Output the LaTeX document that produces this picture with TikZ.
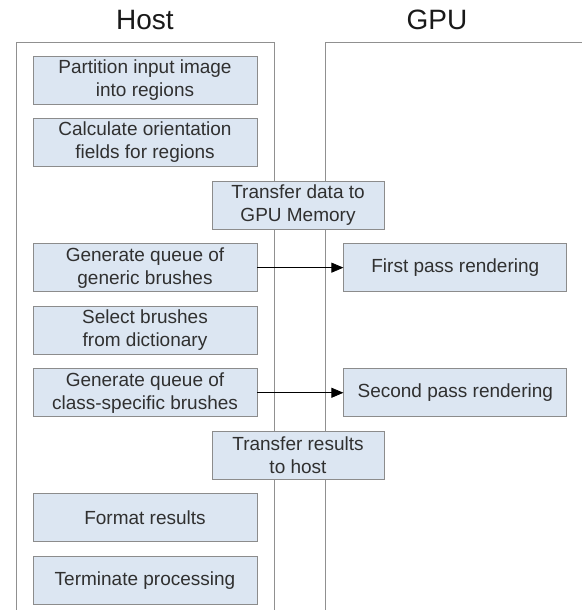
\documentclass[tikz,border=0pt]{standalone}
\usepackage{fontspec}
\setmainfont{Liberation Sans}
\usepackage{xcolor}
\usetikzlibrary{arrows.meta, positioning}

\definecolor{taskfill}{HTML}{DCE6F2}
\definecolor{taskdraw}{HTML}{8C8C8C}
\definecolor{lanedraw}{HTML}{909090}
\definecolor{tasktext}{HTML}{303030}

\begin{document}
\begin{tikzpicture}[x=1pt, y=1pt, font=\fontsize{19}{23}\selectfont]
    % Node Styles
    \tikzstyle{task} = [rectangle, draw=taskdraw, line width=0.8pt, fill=taskfill, text=tasktext, align=center, minimum width=224pt, minimum height=48pt, inner sep=2pt]
    \tikzstyle{lane} = [draw=lanedraw, line width=0.9pt]
    \tikzstyle{title} = [font=\fontsize{28}{32}\selectfont, text=black!90, anchor=base]
    \tikzstyle{line} = [draw, -{Triangle[length=12pt, width=10pt]}, line width=0.8pt, black]

    \useasboundingbox (0,0) rectangle (582,-610);

    % Lanes
    \draw [lane] (16,-610) -- (16,-42) -- (274,-42) -- (274,-610);
    \draw [lane] (325,-610) -- (325,-42) -- (582,-42);
    \node [title] (hosttitle) at (145,-30) {Host};
    \node [title] (gputitle) at (437,-30) {GPU};

    % Host
    \node [task] (partition) at (145,-80) {Partition input image\\into regions};
    \node [task, below=13.75pt of partition] (orient) {Calculate orientation\\fields for regions};
    \node [task, minimum width=172pt, below=13.75pt of orient, xshift=153pt] (tdata) {Transfer data to\\GPU Memory};
    \node [task, below=13.75pt of tdata, xshift=-153pt] (generic) {Generate queue of\\generic brushes};
    \node [task, below=13.75pt of generic] (select) {Select brushes\\from dictionary};
    \node [task, below=13.75pt of select] (classq) {Generate queue of\\class-specific brushes};
    \node [task, minimum width=172pt, below=13.75pt of classq, xshift=153pt] (tresult) {Transfer results\\to host};
    \node [task, below=13.75pt of tresult, xshift=-153pt] (format) {Format results};
    \node [task, below=13.75pt of format] (terminate) {Terminate processing};

    % GPU
    \node [task, minimum width=223pt, right=86pt of generic] (firstpass) {First pass rendering};
    \node [task, minimum width=223pt, right=86pt of classq] (secondpass) {Second pass rendering};

    % Paths
    \draw [line] (generic) -- (firstpass);
    \draw [line] (classq) -- (secondpass);
\end{tikzpicture}
\end{document}
